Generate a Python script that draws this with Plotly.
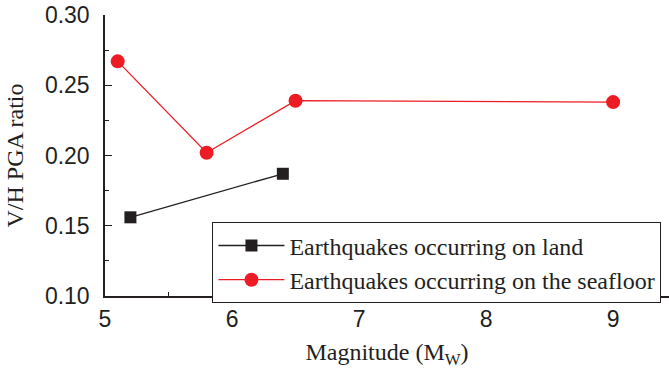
import plotly.graph_objects as go

# Magnitude (Mw) and vertical-to-horizontal PGA ratio
land_mag = [5.2, 6.4]
land_ratio = [0.156, 0.187]
sea_mag = [5.1, 5.8, 6.5, 9.0]
sea_ratio = [0.267, 0.202, 0.239, 0.238]

x_ticks = [5, 6, 7, 8, 9]
y_ticks = [0.10, 0.15, 0.20, 0.25, 0.30]

BLACK = "#231F20"
RED = "#ED1C24"
SANS = "Liberation Sans, Arial, sans-serif"
SERIF = "Liberation Serif, Times New Roman, serif"

fig = go.Figure()
fig.add_trace(go.Scatter(
    x=land_mag, y=land_ratio, mode="lines+markers",
    name="Earthquakes occurring on land",
    line=dict(color=BLACK, width=1.3),
    marker=dict(symbol="square", size=12, color=BLACK),
))
fig.add_trace(go.Scatter(
    x=sea_mag, y=sea_ratio, mode="lines+markers",
    name="Earthquakes occurring on the seafloor",
    line=dict(color=RED, width=1.3),
    marker=dict(symbol="circle", size=14, color=RED),
))

fig.update_layout(
    width=669, height=370,
    margin=dict(l=105, r=0, t=15, b=74),
    plot_bgcolor="white", paper_bgcolor="white",
    showlegend=True,
    legend=dict(
        x=0.19, y=0.263, xanchor="left", yanchor="top",
        bgcolor="white", bordercolor=BLACK, borderwidth=1.3,
        font=dict(family=SERIF, size=24, color=BLACK),
        tracegroupgap=0, itemwidth=66,
    ),
)
fig.update_xaxes(
    range=[5, 9.44], tickvals=x_ticks, ticktext=[str(v) for v in x_ticks],
    showgrid=False, zeroline=False,
    showline=True, linecolor=BLACK, linewidth=1.5,
    ticks="inside", ticklen=7, tickwidth=1.3, tickcolor=BLACK,
    minor=dict(ticks="inside", ticklen=4, dtick=0.5, tickcolor=BLACK, tickwidth=1.3, showgrid=False),
    tickfont=dict(family=SANS, size=23, color=BLACK),
    ticklabelstandoff=2,
    title=dict(text="Magnitude (M<sub>W</sub>)", font=dict(family=SERIF, size=24, color=BLACK), standoff=12),
)
fig.update_yaxes(
    range=[0.10, 0.30], tickvals=y_ticks, ticktext=[f"{v:.2f}" for v in y_ticks],
    showgrid=False, zeroline=False,
    showline=True, linecolor=BLACK, linewidth=1.5,
    ticks="inside", ticklen=7, tickwidth=1.3, tickcolor=BLACK,
    minor=dict(ticks="inside", ticklen=4, dtick=0.025, tickcolor=BLACK, tickwidth=1.3, showgrid=False),
    tickfont=dict(family=SANS, size=23, color=BLACK),
    ticklabelstandoff=9,
    title=dict(text="V/H PGA ratio", font=dict(family=SERIF, size=24, color=BLACK), standoff=14),
)

fig.write_html("out.html")
